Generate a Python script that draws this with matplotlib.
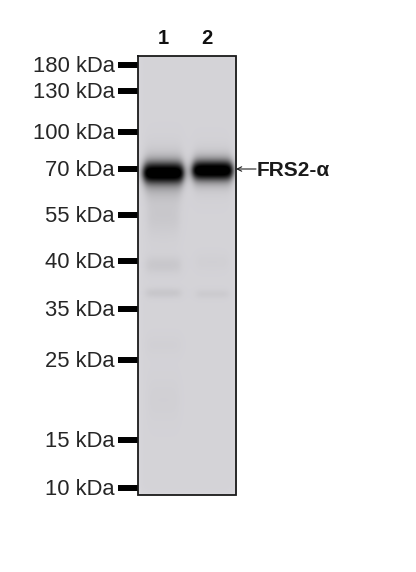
import numpy as np
import matplotlib
matplotlib.use("Agg")
import matplotlib.pyplot as plt

plt.rcParams['font.family'] = ['Liberation Sans', 'DejaVu Sans']

marker_labels = ["180 kDa", "130 kDa", "100 kDa", "70 kDa", "55 kDa",
                 "40 kDa", "35 kDa", "25 kDa", "15 kDa", "10 kDa"]
marker_rows = [65, 91, 132, 169, 215, 261, 309, 360, 440, 488]
lane_labels = ["1", "2"]
lane_label_cols = [164, 207]
target_label = "FRS2-α"
target_row = 169

# band tables: lane centre, half width, row, row spread, darkness (0-1)
band_lanes = [163, 163, 212, 212, 163, 212,
              163, 163, 163, 163, 163, 212, 212, 163, 163]
band_half_widths = [18.5, 19, 18.5, 19, 18, 18,
                    17, 16, 17, 17, 17, 16, 16, 15, 15]
band_rows = [173, 173, 170.5, 170.5, 173, 170.5,
             190, 217, 265, 293, 345, 262, 294, 400, 215]
band_spreads = [5.5, 8.5, 5.0, 8.0, 16, 14,
                8, 11, 6, 3.5, 7, 6, 3.2, 15, 20]
band_darkness = [0.95, 0.5, 0.95, 0.5, 0.08, 0.06,
                 0.03, 0.02, 0.035, 0.038, 0.008, 0.01, 0.025, 0.01, 0.014]

gel_left, gel_right, gel_top, gel_bottom = 137.5, 236, 56, 495
background_rgb = [0.832, 0.828, 0.845]

rows = np.arange(gel_top, gel_bottom) + 0.5
cols = np.arange(gel_left, gel_right) + 0.5
X, Y = np.meshgrid(cols, rows)

transmit = np.ones_like(X)
for cx, hw, cy, sy, d in zip(band_lanes, band_half_widths, band_rows, band_spreads, band_darkness):
    edge = 4.0
    px = 0.5 * (np.tanh((X - (cx - hw)) / edge) - np.tanh((X - (cx + hw)) / edge))
    py = np.exp(-0.5 * ((Y - cy) / sy) ** 2)
    transmit *= 1 - np.clip(d * px * py * 1.5, 0, 1)
rim = np.exp(-(X - gel_left) / 2.5) + np.exp(-(gel_right - X) / 2.5) + np.exp(-(gel_bottom - Y) / 2.5)
gel = np.stack([np.clip(c * transmit + 0.025 * rim * (transmit > 0.6), 0, 1) for c in background_rgb], axis=-1)

fig = plt.figure(figsize=(4.16, 5.72), dpi=100)
ax = fig.add_axes([0, 0, 1, 1])

ax.imshow(gel, extent=(gel_left, gel_right, gel_bottom, gel_top),
          aspect="auto", interpolation="bilinear", zorder=1)
ax.set_xlim(0, 416)
ax.set_ylim(572, 0)
ax.axis("off")
ax.plot([gel_left, gel_right, gel_right, gel_left, gel_left],
        [gel_top, gel_top, gel_bottom, gel_bottom, gel_top],
        color="#1a1a1a", lw=1.3, zorder=3, solid_joinstyle="miter")

ax.hlines(marker_rows, 118, 137.5, color="black", lw=4.3, zorder=2)
for lab, r in zip(marker_labels, marker_rows):
    ax.text(115, r - 1, lab, ha="right", va="center_baseline", fontsize=15.8, color="#262626")

for lab, c in zip(lane_labels, lane_label_cols):
    ax.text(c - 0.5, 36, lab, ha="center", va="center_baseline", fontsize=14.5, fontweight="bold", color="#111111")

ax.text(256.5, target_row - 1, target_label, ha="left", va="center_baseline",
        fontsize=15, fontweight="bold", color="#1a1a1a")
ax.annotate("", xy=(236, target_row), xytext=(256, target_row),
            arrowprops=dict(arrowstyle="->", lw=0.8, color="#222222", shrinkA=0, shrinkB=0,
                            mutation_scale=8))

fig.savefig("out.png", dpi=100, facecolor="white")
